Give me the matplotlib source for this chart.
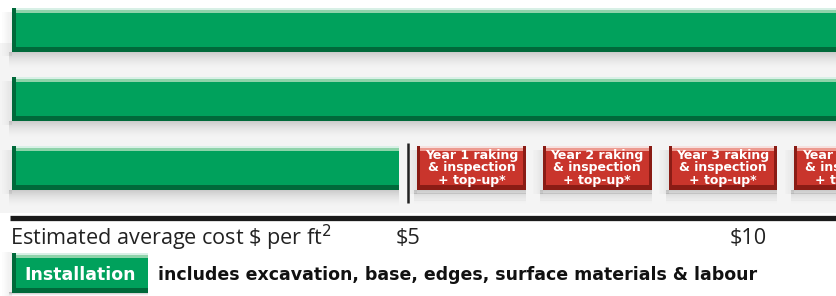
import numpy as np
import matplotlib
matplotlib.use("Agg")
import matplotlib.pyplot as plt

# ---------------- data ----------------
rows = ["Surface A", "Surface B", "Surface C"]
install_cost = [12.5, 12.5, 5.0]          # $ per ft2 (top two run off the chart)
maint_labels = ["Year 1 raking\n& inspection\n+ top-up*",
                "Year 2 raking\n& inspection\n+ top-up*",
                "Year 3 raking\n& inspection\n+ top-up*",
                "Year 4 raking\n& inspection\n+ top-up*"]
maint_cost = [1.85, 1.85, 1.85, 1.85]     # $ per ft2 per year (row C)
tick_values = [5, 10]
tick_labels = ["$5", "$10"]
axis_label = "Estimated average cost \\$ per ft$^2$"
legend_name = "Installation"
legend_text = "includes excavation, base, edges, surface materials & labour"

# ---------------- style ----------------
GREEN, GREEN_L, GREEN_D = "#00A15C", "#8ED3AA", "#00693A"
RED, RED_L, RED_D = "#C9352C", "#EC9A90", "#8A1C15"

W, H = 837, 296
fig = plt.figure(figsize=(W / 100, H / 100), dpi=100)
ax = fig.add_axes([0, 0, 1, 1])
px = 1 / 68.0                       # one pixel in $ units
ax.set_xlim(5 - 408 * px, 5 + 429 * px)
ax.set_ylim(H, 0)
ax.axis("off")
xmin, xmax = ax.get_xlim()

axis_start = 5 - 396 * px           # left edge of the bars
row_y = [30, 99, 168]
bar_h = 44

# faint grey backdrop behind the bar area
ax.barh(128, xmax - xmin, left=xmin, height=170, color="#F4F4F4", zorder=0, linewidth=0)


def shadow(left, right, y_bottom, depth=16, strength=0.30):
    n = 16
    step = depth / n
    for k in range(n):
        a = strength * (1 - k / n) ** 1.6
        ax.barh(y_bottom + step * (k + 0.5), right - left + 3 * px, left=left - 3 * px,
                height=step + 0.2, color="#6f6f6f", alpha=a, zorder=1, linewidth=0)
    # soft left shadow
    for k in range(8):
        a = 0.12 * (1 - k / 8)
        ax.barh(y_bottom - bar_h / 2 + 4, 1.2 * px, left=left - (k + 1) * 1.2 * px,
                height=bar_h, color="#6f6f6f", alpha=a, zorder=1, linewidth=0)


def bevel(y, left, width, h, base, light, dark, edge=4):
    top = y - h / 2
    ax.barh(y, width, left=left, height=h, color=base, zorder=3, linewidth=0)
    ax.barh(top + 1, width, left=left, height=2, color="white", alpha=0.85, zorder=4, linewidth=0)
    ax.barh(top + 3.5, width, left=left, height=3, color=light, zorder=4, linewidth=0)
    ax.barh(y + h / 2 - 2.5, width, left=left, height=5, color=dark, zorder=4, linewidth=0)
    ax.barh(y, edge * px, left=left, height=h, color=dark, zorder=5, linewidth=0)


# install bars
for i, (y, v) in enumerate(zip(row_y, install_cost)):
    end = v - 9 * px if i == 2 else v
    shadow(axis_start, end, y + bar_h / 2)
    bevel(y, axis_start, end - axis_start, bar_h, GREEN, GREEN_L, GREEN_D)

# maintenance boxes on last row
start = install_cost[2]
for lab, c in zip(maint_labels, maint_cost):
    l = start + 9 * px
    w = c - 17 * px
    shadow(l, l + w, row_y[2] + bar_h / 2, depth=14)
    bevel(row_y[2], l, w, bar_h, RED, RED_L, RED_D, edge=3)
    ax.barh(row_y[2], 3 * px, left=l + w - 3 * px, height=bar_h, color=RED_D, zorder=5, linewidth=0)
    ax.text(l + w / 2, row_y[2], lab, ha="center", va="center", color="white",
            fontsize=9.0, fontweight="bold", family="DejaVu Sans", linespacing=0.98,
            zorder=6, clip_on=True)
    start += c

# vertical marker at $5
ax.vlines(install_cost[2], 143, 203, color="#222222", lw=1.8, zorder=6)

# axis line
ax.hlines(218, axis_start - 2 * px, xmax, color="#1a1a1a", lw=3.8, zorder=6)

# axis label and ticks
ax.text(axis_start - 2 * px, 238, axis_label, ha="left", va="center", fontsize=15.6,
        family="Open Sans", color="#222222")
for v, t in zip(tick_values, tick_labels):
    ax.text(v, 238, t, ha="center", va="center", fontsize=15.6, family="Open Sans", color="#222222")

# legend
lg_left, lg_w = axis_start, 136 * px
shadow(lg_left, lg_left + lg_w, 292, depth=4)
bevel(273, lg_left, lg_w, 40, GREEN, GREEN_L, GREEN_D)
ax.text(lg_left + lg_w / 2, 275, legend_name, ha="center", va="center", color="white",
        fontsize=12.5, fontweight="bold", family="DejaVu Sans", zorder=6)
ax.text(lg_left + lg_w + 10 * px, 275, legend_text, ha="left", va="center", color="#111111",
        fontsize=12.5, fontweight="bold", family="DejaVu Sans", zorder=6)

fig.savefig("out.png", dpi=100, facecolor="white")
